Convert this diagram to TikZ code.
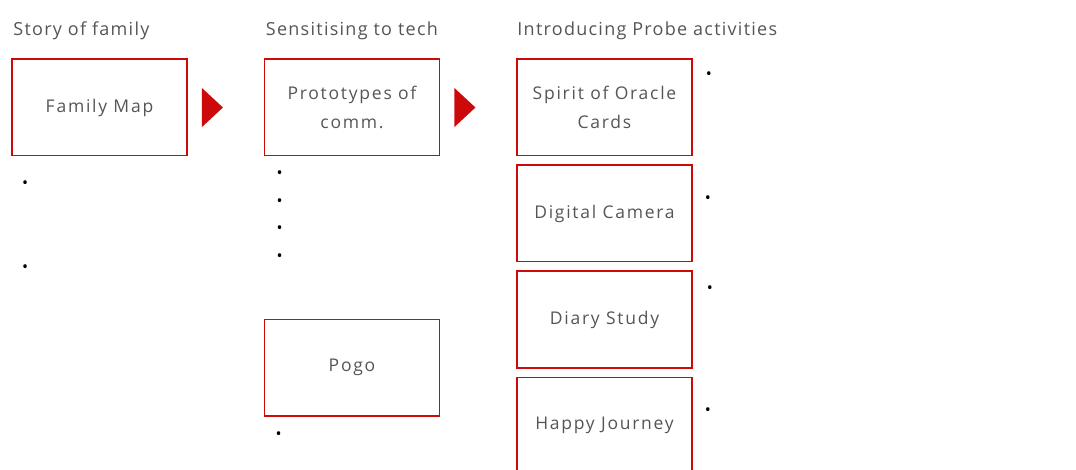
\documentclass[tikz,border=0pt]{standalone}
\usepackage{fontspec}
\setmainfont{Open Sans}
\newfontfamily\stagefont[LetterSpace=10]{Open Sans}
\newfontfamily\headfont[LetterSpace=7]{Open Sans}
\usepackage{xcolor}
\usetikzlibrary{positioning,shapes.geometric}
\definecolor{probered}{RGB}{204,10,10}
\definecolor{labelgray}{RGB}{85,85,85}

\begin{document}
\begin{tikzpicture}[
  x=1pt, y=1pt,
  node distance=8pt and 76pt,
  stage/.style={draw=probered, line width=1.5pt, minimum width=175pt, minimum height=96.5pt,
    align=center, text=labelgray, font=\stagefont\fontsize{17.5}{29}\selectfont, inner sep=0pt},
  heading/.style={text=labelgray, font=\headfont\fontsize{18}{21}\selectfont, inner sep=0pt},
  pointer/.style={isosceles triangle, fill=probered, draw=none, inner sep=0pt,
    minimum width=39pt, minimum height=21pt, isosceles triangle stretches},
  dot/.style={inner sep=0pt, font=\fontsize{16}{16}\selectfont}
]
\useasboundingbox (0,0) rectangle (1076,-470);

% three stages
\node[stage] (fam) at (99.5,-107.5) {Family Map};
\node[stage, right=of fam] (proto) {Prototypes of\\comm.};
\node[stage, right=of proto] (oracle) {Spirit of Oracle\\Cards};
\node[stage, below=of oracle] (camera) {Digital Camera};
\node[stage, below=of camera] (diary) {Diary Study};
\node[stage, below=of diary] (journey) {Happy Journey};
\node[stage, below=162pt of proto] (pogo) {Pogo};

\node[heading, above right=23pt and 2pt of fam.north west, anchor=base west] (famtitle) {Story of family};
\node[heading, above right=23pt and 2pt of proto.north west, anchor=base west] (prototitle) {Sensitising to tech};
\node[heading, above right=23pt and 1pt of oracle.north west, anchor=base west] (oracletitle) {Introducing Probe activities};

\node[pointer, right=14pt of fam] (go1) {};
\node[pointer, right=14pt of proto] (go2) {};

% bullets
\node[dot, below right=28pt and 14pt of fam.south west, anchor=center] (b1) {\textbullet};
\node[dot, below right=112pt and 14pt of fam.south west, anchor=center] (b2) {\textbullet};
\foreach \i/\d in {1/18,2/46,3/73,4/101}
  \node[dot, below right=\d pt and 16pt of proto.south west, anchor=center] (pb\i) {\textbullet};
\node[dot, below right=19pt and 15pt of pogo.south west, anchor=center] (pg1) {\textbullet};
\node[dot, below right=17pt and 16pt of oracle.north east, anchor=center] (ob1) {\textbullet};
\node[dot, below right=35pt and 15pt of camera.north east, anchor=center] (cb1) {\textbullet};
\node[dot, below right=19pt and 17pt of diary.north east, anchor=center] (db1) {\textbullet};
\node[dot, below right=35pt and 15pt of journey.north east, anchor=center] (jb1) {\textbullet};
\end{tikzpicture}
\end{document}
